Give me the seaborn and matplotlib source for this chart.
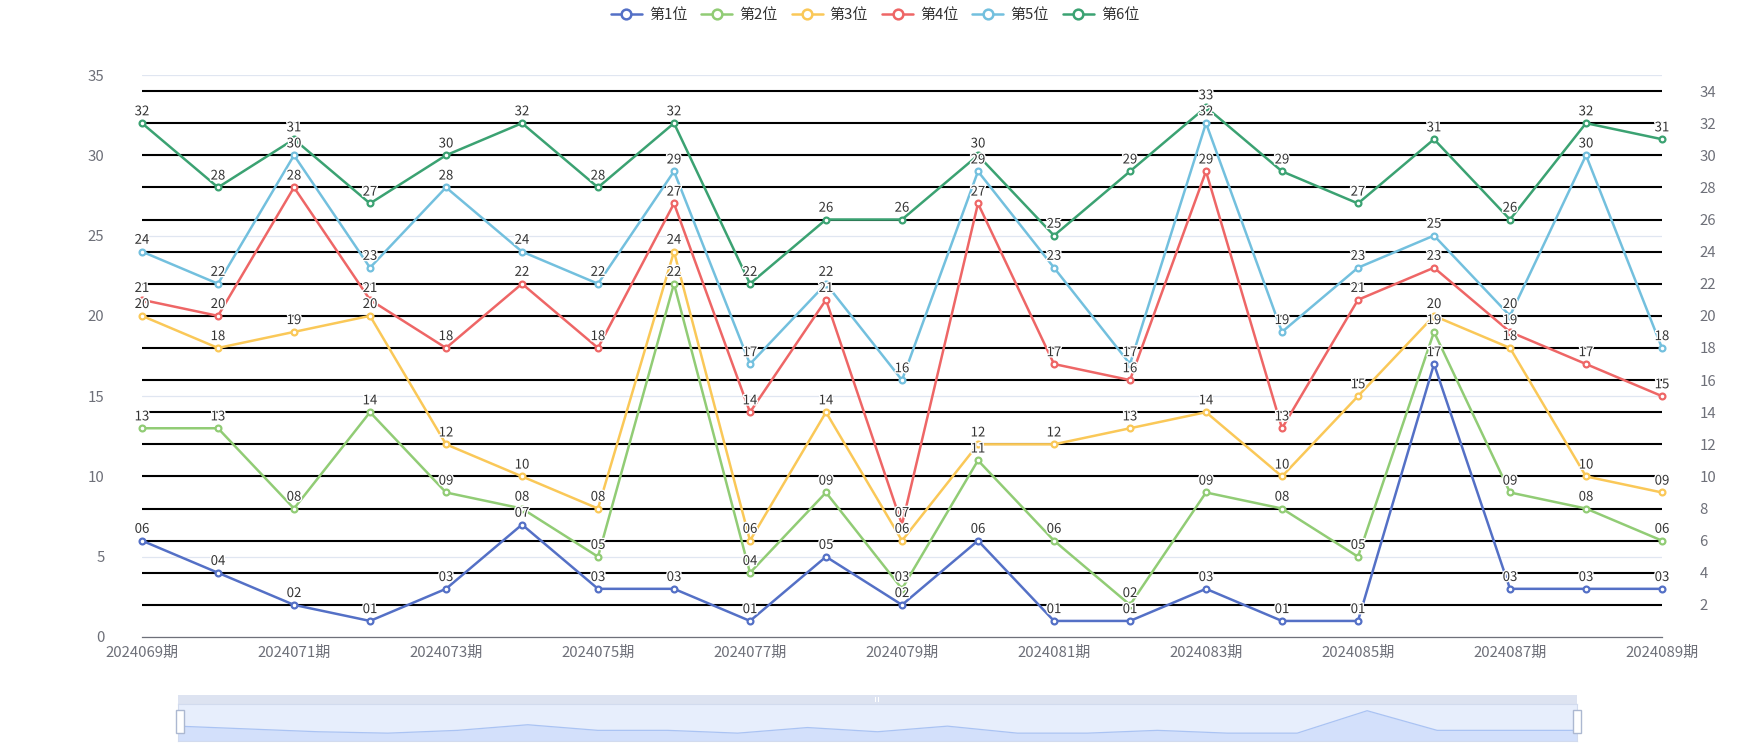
import pandas as pd
import matplotlib
matplotlib.use('Agg')
import matplotlib.pyplot as plt
import matplotlib.patheffects as pe
import seaborn as sns
from matplotlib.lines import Line2D
from matplotlib.patches import Rectangle


# data
PERIODS = ['2024069期', '2024070期', '2024071期', '2024072期', '2024073期', '2024074期', '2024075期',
           '2024076期', '2024077期', '2024078期', '2024079期', '2024080期', '2024081期', '2024082期',
           '2024083期', '2024084期', '2024085期', '2024086期', '2024087期', '2024088期', '2024089期']
NAMES = ['第1位', '第2位', '第3位', '第4位', '第5位', '第6位']
POS1 = [6, 4, 2, 1, 3, 7, 3, 3, 1, 5, 2, 6, 1, 1, 3, 1, 1, 17, 3, 3, 3]
POS2 = [13, 13, 8, 14, 9, 8, 5, 22, 4, 9, 3, 11, 6, 2, 9, 8, 5, 19, 9, 8, 6]
POS3 = [20, 18, 19, 20, 12, 10, 8, 24, 6, 14, 6, 12, 12, 13, 14, 10, 15, 20, 18, 10, 9]
POS4 = [21, 20, 28, 21, 18, 22, 18, 27, 14, 21, 7, 27, 17, 16, 29, 13, 21, 23, 19, 17, 15]
POS5 = [24, 22, 30, 23, 28, 24, 22, 29, 17, 22, 16, 29, 23, 17, 32, 19, 23, 25, 20, 30, 18]
POS6 = [32, 28, 31, 27, 30, 32, 28, 32, 22, 26, 26, 30, 25, 29, 33, 29, 27, 31, 26, 32, 31]
SERIES = [POS1, POS2, POS3, POS4, POS5, POS6]

# echarts default palette
COLORS = ['#5470c6', '#91cc75', '#fac858', '#ee6666', '#73c0de', '#3ba272']
AXIS_GREY = '#6E7079'
W, H = 1750, 750


def box(x0, y0, x1, y1):
    # pixel box (top-left origin) -> figure fraction rect
    return [x0 / W, 1 - y1 / H, (x1 - x0) / W, (y1 - y0) / H]


sns.set_theme(style='white')
plt.rcParams['font.family'] = ['Noto Sans CJK SC', 'DejaVu Sans']

fig = plt.figure(figsize=(17.5, 7.5), dpi=100)
fig.patch.set_facecolor('white')

# left axis (light split lines) sits behind, right axis (black lines) carries the series
ax = fig.add_axes(box(142, 75, 1662, 637))
ax2 = ax.twinx()

idx = list(range(len(PERIODS)))
for name, vals, color in zip(NAMES, SERIES, COLORS):
    df = pd.DataFrame({'x': idx, 'y': vals})
    sns.lineplot(data=df, x='x', y='y', ax=ax2, color=color, lw=1.8, marker='o', markersize=4.2,
                 markerfacecolor='white', markeredgecolor=color, markeredgewidth=1.6,
                 legend=False, zorder=3, clip_on=False)

# point labels
for vals in SERIES:
    for x, v in zip(idx, vals):
        ax2.annotate(f'{v:02d}', (x, v), xytext=(0, 3.5), textcoords='offset points',
                     ha='center', va='bottom', fontsize=9.5, color='#333333', zorder=6,
                     annotation_clip=False,
                     path_effects=[pe.withStroke(linewidth=2, foreground='white')])

# left axis config
ax.set_xlim(0, len(PERIODS) - 1)
ax.set_ylim(0, 35)
ax.set_yticks(range(0, 36, 5))
ax.yaxis.grid(True, color='#E0E6F1', lw=0.9)
ax.xaxis.grid(False)
ax.set_xticks(idx[::2])
ax.set_xticklabels(PERIODS[::2])
ax.tick_params(axis='x', colors=AXIS_GREY, labelsize=10.8, length=4.3, width=0.9, pad=2, direction='out')
ax.tick_params(axis='y', colors=AXIS_GREY, labelsize=10.8, length=0, pad=27)
for s in ['top', 'left', 'right']:
    ax.spines[s].set_visible(False)
ax.spines['bottom'].set_color(AXIS_GREY)
ax.spines['bottom'].set_linewidth(0.9)

# right axis config
ax2.set_xlim(0, len(PERIODS) - 1)
ax2.set_ylim(0, 35)
ax2.set_yticks(range(2, 35, 2))
ax2.yaxis.grid(True, color='black', lw=1.5)
ax2.xaxis.grid(False)
ax2.tick_params(axis='y', colors=AXIS_GREY, labelsize=10.8, length=0, pad=27)
ax2.set_xlabel('')
ax2.set_ylabel('')
ax.set_xlabel('')
ax.set_ylabel('')
for s in ax2.spines.values():
    s.set_visible(False)
ax2.patch.set_visible(False)

# legend
handles = [Line2D([], [], color=c, lw=1.8, marker='o', markersize=7, markerfacecolor='white',
                  markeredgecolor=c, markeredgewidth=1.8) for c in COLORS]
fig.legend(handles, NAMES, loc='center', bbox_to_anchor=(0.5, 1 - 15 / H), ncol=6, frameon=False,
           fontsize=10.8, handlelength=2.07, handletextpad=0.47, columnspacing=0.93,
           labelcolor='#333333', borderaxespad=0)

# data zoom slider at the bottom
bar = fig.add_axes(box(178, 695, 1577, 704))
bar.set_facecolor('#dde3f1')
bar.set_xticks([])
bar.set_yticks([])
for s in bar.spines.values():
    s.set_visible(False)

body = fig.add_axes(box(178, 704, 1577, 741))
body.set_facecolor('#e7eefc')
sns.lineplot(x=idx, y=POS1, ax=body, color='#aac3f3', lw=0.9)
body.set_xlim(0, len(PERIODS) - 1)
body.set_ylim(-4.6, 21.8)
body.fill_between(idx, POS1, -4.6, color='#d3e0fb', lw=0)
body.set_xticks([])
body.set_yticks([])
body.set_xlabel('')
body.set_ylabel('')
for s in body.spines.values():
    s.set_color('#d2dbee')
    s.set_linewidth(0.8)

# slider handles + grip
for hx in (176, 1573):
    fig.patches.append(Rectangle((hx / W, 1 - 733 / H), 8 / W, 23 / H, transform=fig.transFigure,
                                 facecolor='white', edgecolor='#ACB8D1', lw=1, zorder=10))
for gx in (875, 878):
    fig.patches.append(Rectangle((gx / W, 1 - 702 / H), 1 / W, 5 / H, transform=fig.transFigure,
                                 facecolor='white', edgecolor='none', zorder=10))

fig.savefig('out.png', dpi=100)
